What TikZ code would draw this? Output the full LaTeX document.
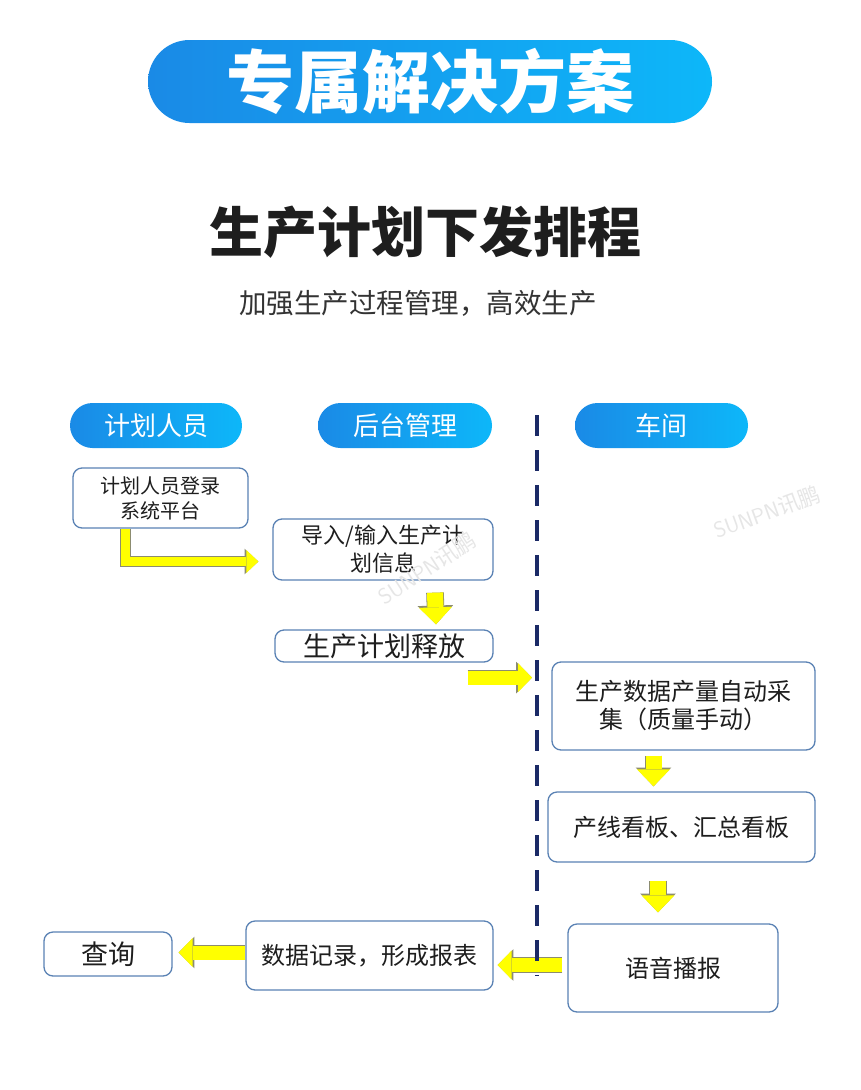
\documentclass[tikz,border=0pt]{standalone}
\usepackage{fontspec}
\newfontfamily\cjk{Noto Sans CJK SC}
\usetikzlibrary{arrows.meta, calc}

\definecolor{boxline}{HTML}{5A82B4}
\definecolor{pillleft}{HTML}{1A8AE6}
\definecolor{pillright}{HTML}{0DB7F9}
\definecolor{laneline}{HTML}{1B2A66}
\definecolor{arrowfill}{HTML}{FFFF00}
\definecolor{arrowedge}{HTML}{8C8C70}
\definecolor{textdark}{HTML}{1E1E1E}
\definecolor{subgray}{HTML}{333333}
\definecolor{markgray}{HTML}{E6E6E6}

\tikzset{
  bigarrow/.style = {
    preaction = {draw = arrowedge, line width = 17.6pt,
      -{Triangle[length = 18.8pt, width = 35.6pt, line width = 0pt]}},
    draw = arrowfill, line width = 16pt,
    -{Triangle[length = 17pt, width = 33pt, line width = 0pt]}},
  midarrow/.style = {
    preaction = {draw = arrowedge, line width = 15.6pt,
      -{Triangle[length = 15.8pt, width = 31.6pt, line width = 0pt]}},
    draw = arrowfill, line width = 14pt,
    -{Triangle[length = 14pt, width = 29pt, line width = 0pt]}},
  thinarrow/.style = {
    preaction = {draw = arrowedge, line width = 10.6pt,
      -{Triangle[length = 13.8pt, width = 25.6pt, line width = 0pt]}},
    draw = arrowfill, line width = 9pt,
    -{Triangle[length = 12pt, width = 23pt, line width = 0pt]}}
}

\begin{document}
\begin{tikzpicture}[
    x = 1pt, y = -1pt,
    every node/.style = {font = \cjk},
    pill/.style = {rounded corners = 22.5pt, left color = pillleft,
      right color = pillright, text = white, minimum width = 173pt,
      minimum height = 45pt, inner sep = 0pt,
      font = \cjk\fontsize{26}{30}\selectfont},
    stepbox/.style = {draw = boxline, line width = 1.3pt, rounded corners = 9pt,
      fill = white, align = center, inner sep = 0pt, text = textdark,
      font = \cjk\fontsize{24}{28}\selectfont},
    watermark/.style = {text = markgray, inner sep = 0pt,
      font = \sffamily\fontsize{22}{22}\selectfont}
  ]
  \fill[white] (0, 0) rectangle (860, 1090);
  \useasboundingbox (0, 0) rectangle (860, 1090);

  % Heading
  \node[pill, minimum width = 564pt, minimum height = 83pt, rounded corners = 41.5pt,
        font = \cjk\bfseries\fontsize{68}{72}\selectfont] (Head) at (430, 81.5) {专属解决方案};
  \node[text = textdark, font = \cjk\bfseries\fontsize{54}{60}\selectfont] (Title) at (425, 232) {生产计划下发排程};
  \node[text = subgray, font = \cjk\fontsize{27.5}{32}\selectfont] (Sub) at (418, 303) {加强生产过程管理，高效生产};

  % Lanes
  \node[pill, minimum width = 172pt] (Planner) at (156, 425.5) {计划人员};
  \node[pill, minimum width = 174pt] (Backend) at (405, 425.5) {后台管理};
  \node[pill] (Shop) at (661.5, 425.5) {车间};

  % Steps
  \node[stepbox, minimum width = 175pt, minimum height = 60pt,
        font = \cjk\fontsize{20}{25}\selectfont] (Login) at (160.5, 498) {计划人员登录\\系统平台};
  \node[stepbox, minimum width = 220pt, minimum height = 61pt,
        font = \cjk\fontsize{22}{28}\selectfont] (Import) at (383, 549.5) {导入/输入生产计\\划信息};
  \node[stepbox, minimum width = 218pt, minimum height = 32pt,
        font = \cjk\fontsize{27}{30}\selectfont] (Release) at (384, 646) {生产计划释放};
  \node[stepbox, minimum width = 263pt, minimum height = 88pt] (Collect) at (683.5, 706) {生产数据产量自动采\\集（质量手动）};
  \node[stepbox, minimum width = 267pt, minimum height = 70pt] (Board) at (681.5, 827) {产线看板、汇总看板};
  \node[stepbox, minimum width = 210pt, minimum height = 88pt] (Voice) at (673, 968) {语音播报};
  \node[stepbox, minimum width = 247pt, minimum height = 69pt] (Report) at (369.5, 955.5) {数据记录，形成报表};
  \node[stepbox, minimum width = 128pt, minimum height = 44pt,
        font = \cjk\fontsize{27}{30}\selectfont] (Query) at (108, 954) {查询};

  % Block arrows
  \coordinate (L1) at ($(Login.south) + (-35, 0)$);
  \coordinate (L2) at ($(Import.west) + (-14, 12)$);
  \draw[thinarrow] (L1) |- (L2);
  \draw[bigarrow] ($(Import.south) + (52, 12)$) -- ($(Release.north) + (52, -5)$);
  \coordinate (R1) at ($(Release.south east) + (-26, 15)$);
  \coordinate (LaneTop) at (537, 415);
  \coordinate (LaneBot) at (537, 976);
  \draw[midarrow] (R1) -- ($(R1 -| LaneTop) + (-5, 0)$);
  \coordinate (D2) at ($(Collect.south) + (-30, 5)$);
  \draw[bigarrow] (D2) -- ($(D2 |- Board.north) + (0, -5)$);
  \coordinate (D3) at ($(Board.south) + (-23.5, 18)$);
  \draw[bigarrow] (D3) -- ($(D3 |- Voice.north) + (0, -11)$);
  \coordinate (W1) at ($(Voice.west) + (-5, -3)$);
  \draw[midarrow] (W1) -- ($(W1 -| Report.east) + (4, 0)$);
  \coordinate (W2) at ($(Report.west) + (0, -3)$);
  \draw[midarrow] (W2) -- ($(W2 -| Query.east) + (6, 0)$);

  % Lane divider
  \draw[laneline, line width = 4.5pt, dash pattern = on 21pt off 14pt] (LaneTop) -- (LaneBot);

  % Watermarks
  \node[watermark, rotate = 33] (Mark1) at (427, 568) {SUNPN\cjk 讯鹏};
  \node[watermark, rotate = 20] (Mark2) at (767, 512) {SUNPN\cjk 讯鹏};
\end{tikzpicture}
\end{document}
